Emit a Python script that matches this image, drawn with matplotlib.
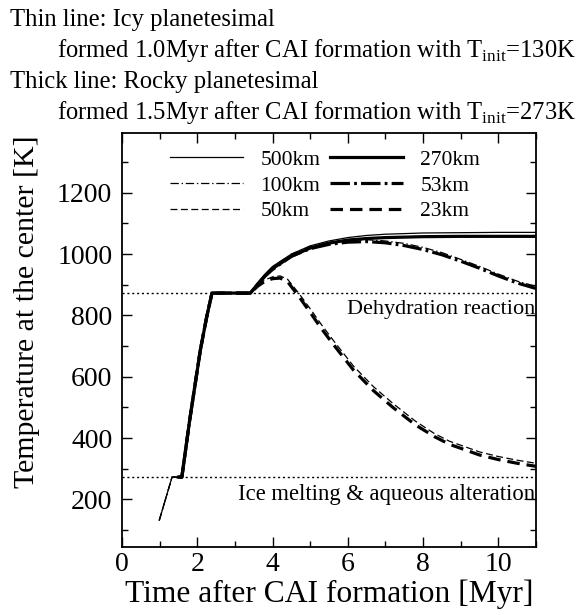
import matplotlib.pyplot as plt
from matplotlib.ticker import MultipleLocator

plt.rcParams["font.family"] = ["Liberation Serif", "DejaVu Serif"]
plt.rcParams["mathtext.fontset"] = "custom"
plt.rcParams["mathtext.rm"] = "Liberation Serif"
plt.rcParams["lines.scale_dashes"] = False

# central temperature histories [Myr], [K]
# icy planetesimals (thin lines)
t_500 = [0.99, 1.33, 1.59, 1.80, 2.08, 2.25, 2.39, 3.41, 3.6, 3.8, 4.0, 4.5, 5.0, 5.5, 6.0, 6.5, 7.0, 8.0, 9.0, 10.0, 11.0]
T_500 = [132, 273, 273, 460, 686, 795, 873, 873, 905, 935, 960, 1000, 1027, 1043, 1054, 1061, 1065, 1069, 1070, 1071, 1071]

t_100 = [0.99, 1.33, 1.59, 1.80, 2.08, 2.25, 2.39, 3.41, 3.6, 3.8, 4.0, 4.5, 5.0, 5.5, 6.0, 6.5, 7.0, 7.5, 8.0, 8.5, 9.0, 9.5, 10.0, 10.5, 11.0]
T_100 = [132, 273, 273, 460, 686, 795, 873, 873, 904, 933, 958, 1000, 1025, 1038, 1045, 1047, 1043, 1035, 1022, 1005, 983, 960, 935, 912, 895]

t_50 = [0.99, 1.33, 1.59, 1.80, 2.08, 2.25, 2.39, 3.41, 3.6, 3.8, 4.0, 4.2, 4.4, 4.7, 5.0, 5.3, 5.62, 6.15, 6.68, 7.2, 7.8, 8.3, 8.7, 9.5, 10.0, 10.5, 11.0]
T_50 = [132, 273, 273, 460, 686, 795, 873, 873, 898, 916, 926, 929, 918, 872, 822, 770, 718, 635, 568, 513, 455, 415, 390, 355, 340, 328, 318]

# rocky planetesimals (thick lines)
t_270 = [1.50, 1.59, 1.80, 2.08, 2.25, 2.39, 3.41, 3.6, 3.8, 4.0, 4.5, 5.0, 5.5, 6.0, 6.5, 7.0, 8.0, 9.0, 10.0, 11.0]
T_270 = [273, 273, 460, 686, 795, 873, 873, 902, 930, 953, 993, 1020, 1036, 1046, 1051, 1054, 1057, 1058, 1058, 1058]

t_53 = [1.50, 1.59, 1.80, 2.08, 2.25, 2.39, 3.41, 3.6, 3.8, 4.0, 4.5, 5.0, 5.5, 6.0, 6.5, 7.0, 7.5, 8.0, 8.5, 9.0, 9.5, 10.0, 10.5, 11.0]
T_53 = [273, 273, 460, 686, 795, 873, 873, 900, 928, 950, 993, 1018, 1032, 1039, 1041, 1037, 1028, 1015, 998, 977, 954, 929, 906, 888]

t_23 = [1.50, 1.59, 1.80, 2.08, 2.25, 2.39, 3.41, 3.6, 3.8, 4.0, 4.2, 4.4, 4.7, 5.0, 5.3, 5.62, 6.15, 6.68, 7.2, 7.8, 8.3, 8.7, 9.5, 10.0, 10.5, 11.0]
T_23 = [273, 273, 460, 686, 795, 873, 873, 895, 912, 920, 922, 910, 862, 810, 757, 705, 622, 555, 500, 443, 405, 380, 345, 330, 318, 308]

T_dehydration = 873
T_melting = 273

THIN = 0.9
THICK = 2.3

fig = plt.figure(figsize=(5.81, 6.15), dpi=100)
ax = fig.add_axes([0.21, 0.1106, 0.7125, 0.6731])

ax.plot(t_500, T_500, color="black", lw=THIN, label="500km")
ax.plot(t_100, T_100, color="black", lw=THIN, dashes=(6, 2, 1, 2), label="100km")
ax.plot(t_50, T_50, color="black", lw=THIN, dashes=(5, 2.5), label="50km")
ax.plot(t_270, T_270, color="black", lw=THICK, label="270km")
ax.plot(t_53, T_53, color="black", lw=THICK, dashes=(14, 3, 2, 3), label="53km")
ax.plot(t_23, T_23, color="black", lw=THICK, dashes=(9, 5), label="23km")

ax.axhline(T_dehydration, color="black", lw=1.0, dashes=(1.5, 2.0))
ax.axhline(T_melting, color="black", lw=1.0, dashes=(1.5, 2.0))
ax.text(10.98, T_dehydration - 22, "Dehydration reaction", ha="right", va="top", fontsize=16)
ax.text(10.98, T_melting - 22, "Ice melting & aqueous alteration", ha="right", va="top", fontsize=16.3)

ax.set_xlim(0, 11)
ax.set_ylim(45, 1395)
ax.xaxis.set_major_locator(MultipleLocator(2))
ax.xaxis.set_minor_locator(MultipleLocator(1))
ax.yaxis.set_major_locator(MultipleLocator(200))
ax.yaxis.set_minor_locator(MultipleLocator(100))
ax.tick_params(which="both", direction="in", top=True, right=True, width=1.0, labelsize=20)
ax.tick_params(which="major", length=7)
ax.tick_params(which="minor", length=4)
ax.tick_params(axis="y", pad=7)
for s in ax.spines.values():
    s.set_linewidth(1.3)

ax.set_xlabel("Time after CAI formation [Myr]", fontsize=22.7, labelpad=2)
ax.set_ylabel("Temperature at the center [K]", fontsize=21.5)
ax.yaxis.set_label_coords(-0.198, 0.568)

ax.legend(loc="upper left", bbox_to_anchor=(0.069, 1.006), ncol=2, frameon=False,
          fontsize=15.5, handlelength=3.4, handletextpad=0.8, columnspacing=0.45,
          labelspacing=0.26)

fig.text(10 / 581, 1 - 20 / 615, "Thin line: Icy planetesimal", fontsize=17.7, va="center")
fig.text(57 / 581, 1 - 51 / 615, r"formed 1.0Myr after CAI formation with T$_{\rm init}$=130K",
         fontsize=17.7, va="center")
fig.text(10 / 581, 1 - 82 / 615, "Thick line: Rocky planetesimal", fontsize=17.7, va="center")
fig.text(57 / 581, 1 - 113 / 615, r"formed 1.5Myr after CAI formation with T$_{\rm init}$=273K",
         fontsize=17.7, va="center")

fig.savefig("out.png", dpi=100)
